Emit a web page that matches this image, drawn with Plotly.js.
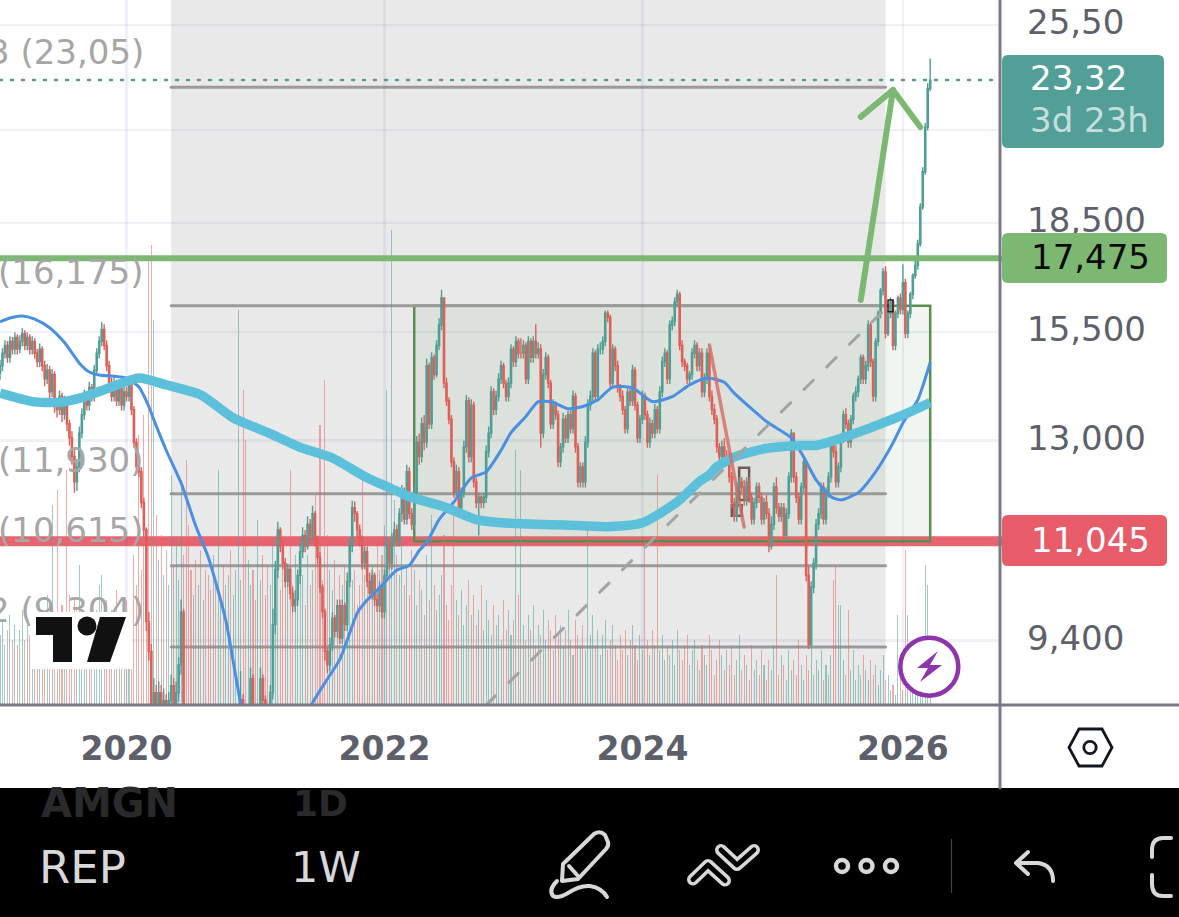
<!DOCTYPE html>
<html><head><meta charset="utf-8">
<script src="https://cdn.plot.ly/plotly-3.0.1.min.js"></script>
<style>html,body{margin:0;padding:0;background:#fff;overflow:hidden}#wrap{position:relative;width:1179px;height:917px}
#chart{position:absolute;left:0;top:0;width:1179px;height:917px}
#icons{position:absolute;left:0;top:0;pointer-events:none}
.shapelayer path{stroke-linecap:round}</style>
</head><body><div id="wrap"><div id="chart"></div>
<svg id="icons" width="1179" height="917" viewBox="0 0 1179 917" fill="none">
<rect x="30" y="612" width="102" height="57" fill="#fff"/>
<path d="M36 617H72V662H53V635H36Z" fill="#111"/><circle cx="87" cy="626" r="9.5" fill="#111"/><path d="M100 617H126L110 662H87Z" fill="#111"/>
<circle cx="929.3" cy="666.7" r="29" fill="#fff" stroke="#8e35ab" stroke-width="4.5"/><path d="M938 651L917 668H928L920 682L942 665H930Z" fill="#8e35ab"/>
<path d="M1079 729H1102L1112 747.5L1102 766H1079L1069 747.5Z" stroke="#131722" stroke-width="2.8"/><circle cx="1090" cy="747.5" r="6.2" stroke="#131722" stroke-width="2.8"/>
<g stroke="#d8d8da" stroke-width="4" stroke-linecap="round" stroke-linejoin="round">
<path d="M562 881L563 864L594 834Q600 830 605 835L608 842Q609 846 606 849L578 879Z"/><path d="M569 866L578 876"/>
<path d="M557 881Q548 890 553 896Q558 899 568 893Q580 885 590 886Q602 888 607 897"/>
<circle cx="842" cy="866" r="6" stroke-width="4.5"/><circle cx="866.5" cy="866" r="6" stroke-width="4.5"/><circle cx="891" cy="866" r="6" stroke-width="4.5"/>
<path d="M1028 852L1016 863L1028 874M1016 863H1038Q1053 865 1053 881"/>
<path d="M1171 838H1163Q1152 838 1152 850V857M1152 875V884Q1152 896 1163 896H1171"/>
</g>
<g stroke-linecap="round" stroke-linejoin="round">
<path d="M693 879.5L708 865L725 880.5M721 850L737 865L754 850" stroke="#d8d8da" stroke-width="12"/>
<path d="M693 879.5L708 865L725 880.5M721 850L737 865L754 850" stroke="#000" stroke-width="5"/>
</g>
<path d="M951.5 839V893" stroke="#444" stroke-width="1.2"/>
</svg></div>
<script>
const closes=[14.68,14.98,15.17,14.88,15.27,15.08,15.37,15.08,15.27,15.47,
15.17,15.37,15.08,15.27,14.98,14.78,15.08,14.68,14.37,14.57,
14.07,14.47,13.77,13.67,13.97,13.57,13.87,13.36,13.06,12.67,
12.16,12.46,13.16,13.56,13.97,13.77,14.17,13.97,14.57,14.98,
15.27,15.57,15.17,14.68,14.27,13.97,14.27,13.87,14.17,13.77,
14.07,13.97,14.27,13.67,12.96,12.46,12.36,11.76,11.25,9.70,
9.24,8.28,8.64,8.34,8.64,8.34,8.53,8.28,8.53,8.74,
8.34,8.64,9.04,9.85,8.34,8.04,7.84,7.64,7.74,7.53,
7.74,7.64,7.84,7.74,7.53,7.33,7.64,7.53,7.74,7.84,
7.64,7.74,7.94,7.84,8.04,8.14,8.24,8.54,8.34,8.14,
8.34,8.84,8.24,8.14,8.34,8.84,8.54,8.34,8.24,8.64,
9.65,10.55,11.25,10.96,10.66,10.35,10.55,10.15,9.95,10.05,
10.45,10.86,11.15,10.96,11.35,11.15,11.55,11.06,10.76,10.25,
9.85,9.24,9.04,9.34,9.75,9.55,9.95,9.44,9.95,9.65,
10.35,10.96,11.66,11.55,11.25,11.06,10.66,10.86,10.35,10.15,
10.45,10.05,9.95,10.25,9.85,10.45,10.96,10.66,11.06,11.25,
11.06,11.55,11.96,11.45,12.36,
11.55,11.35,11.96,12.97,12.67,13.36,12.97,14.68,13.36,14.88,14.47,
15.17,15.68,16.38,
14.27,13.87,13.46,12.56,11.96,12.36,11.66,11.96,12.87,13.87,
12.67,13.77,12.16,11.76,11.86,11.76,11.86,12.77,13.16,14.07,13.67,
13.97,14.37,14.68,14.27,13.97,14.27,15.08,14.78,15.27,14.98,
14.98,15.17,14.37,15.27,14.88,15.27,14.98,15.08,13.16,14.47,
14.88,14.27,13.36,13.77,13.56,12.56,12.87,13.46,13.06,13.56,
13.26,13.97,12.87,12.16,12.46,12.16,12.97,13.77,13.97,14.98,
13.97,15.08,15.08,15.27,15.98,15.88,14.27,15.08,14.68,14.17,
13.97,13.67,13.26,14.07,13.87,14.57,13.77,13.06,13.46,13.97,
13.56,12.97,13.36,13.16,13.67,13.26,14.07,14.78,14.98,14.37,
15.68,15.78,16.28,16.48,15.17,14.78,14.68,14.37,14.47,14.98,
15.17,14.68,14.98,14.07,14.37,14.98,13.97,13.67,13.46,12.87,
12.67,12.87,12.67,12.67,12.26,11.76,11.50,12.06,12.16,12.06,
11.81,12.16,11.86,11.45,11.76,12.06,11.86,11.45,11.76,11.55,
10.96,11.35,12.06,11.66,11.50,11.66,11.15,11.55,12.26,13.16,
12.26,11.86,11.45,12.06,12.56,10.45,9.34,10.25,10.66,11.35,
11.55,12.06,11.45,11.96,12.26,12.97,12.77,12.16,12.46,13.06,
13.56,13.36,12.97,13.46,13.97,14.07,14.37,14.88,14.37,14.68,
15.68,14.78,13.97,15.27,15.98,16.58,17.09,15.47,15.98,16.28,
15.17,15.98,16.38,16.08,16.79,15.47,15.98,16.48,16.99,17.27,
17.88,18.99,20.10,21.61,23.00,23.32];
const opens=[14.50,14.68,14.98,15.17,14.88,15.27,15.08,15.37,15.08,15.27,
15.47,15.17,15.37,15.08,15.27,14.98,14.78,15.08,14.68,14.37,
14.57,14.07,14.47,13.77,13.67,13.97,13.57,13.87,13.36,13.06,
12.67,12.16,12.46,13.16,13.56,13.97,13.77,14.17,13.97,14.57,
14.98,15.27,15.57,15.17,14.68,14.27,13.97,14.27,13.87,14.17,
13.77,14.07,13.97,14.27,13.67,12.96,12.46,12.36,11.76,11.25,
9.70,9.24,8.28,8.64,8.34,8.64,8.34,8.53,8.28,8.53,
8.74,8.34,8.64,9.04,9.85,8.34,8.04,7.84,7.64,7.74,
7.53,7.74,7.64,7.84,7.74,7.53,7.33,7.64,7.53,7.74,
7.84,7.64,7.74,7.94,7.84,8.04,8.14,8.24,8.54,8.34,
8.14,8.34,8.84,8.24,8.14,8.34,8.84,8.54,8.34,8.24,
8.64,9.65,10.55,11.25,10.96,10.66,10.35,10.55,10.15,9.95,
10.05,10.45,10.86,11.15,10.96,11.35,11.15,11.55,11.06,10.76,
10.25,9.85,9.24,9.04,9.34,9.75,9.55,9.95,9.44,9.95,
9.65,10.35,10.96,11.66,11.55,11.25,11.06,10.66,10.86,10.35,
10.15,10.45,10.05,9.95,10.25,9.85,10.45,10.96,10.66,11.06,
11.25,11.06,11.55,11.96,11.45,
12.36,11.55,11.35,11.96,12.97,12.67,13.36,12.97,14.68,13.36,14.88,
14.47,15.17,15.68,
16.38,14.27,13.87,13.46,12.56,11.96,12.36,11.66,11.96,12.87,
13.87,12.67,13.77,12.16,11.76,11.86,11.76,11.86,12.77,13.16,14.07,
13.67,13.97,14.37,14.68,14.27,13.97,14.27,15.08,14.78,15.27,
14.98,14.98,15.17,14.37,15.27,14.88,15.27,14.98,15.08,13.16,
14.47,14.88,14.27,13.36,13.77,13.56,12.56,12.87,13.46,13.06,
13.56,13.26,13.97,12.87,12.16,12.46,12.16,12.97,13.77,13.97,
14.98,13.97,15.08,15.08,15.27,15.98,15.88,14.27,15.08,14.68,
14.17,13.97,13.67,13.26,14.07,13.87,14.57,13.77,13.06,13.46,
13.97,13.56,12.97,13.36,13.16,13.67,13.26,14.07,14.78,14.98,
14.37,15.68,15.78,16.28,16.48,15.17,14.78,14.68,14.37,14.47,
14.98,15.17,14.68,14.98,14.07,14.37,14.98,13.97,13.67,13.46,
12.87,12.67,12.87,12.67,12.67,12.26,11.76,11.50,12.06,12.16,
12.06,11.81,12.16,11.86,11.45,11.76,12.06,11.86,11.45,11.76,
11.55,10.96,11.35,12.06,11.66,11.50,11.66,11.15,11.55,12.26,
13.16,12.26,11.86,11.45,12.06,12.56,10.45,9.34,10.25,10.66,
11.35,11.55,12.06,11.45,11.96,12.26,12.97,12.77,12.16,12.46,
13.06,13.56,13.36,12.97,13.46,13.97,14.07,14.37,14.88,14.37,
14.68,15.68,14.78,13.97,15.27,15.98,16.58,17.09,15.47,15.98,
16.28,15.17,15.98,16.38,16.08,16.79,15.47,15.98,16.48,16.99,
17.27,17.88,18.99,20.10,21.61,23.00];
const highs=[14.82,15.10,15.30,15.28,15.40,15.38,15.50,15.45,15.42,15.60,
15.55,15.50,15.45,15.40,15.35,15.08,15.22,15.15,14.80,14.72,
14.68,14.60,14.55,13.90,14.10,14.05,13.98,13.95,13.45,13.20,
12.80,12.62,13.30,13.70,14.12,14.05,14.30,14.25,14.70,15.10,
15.40,15.75,15.70,15.30,14.80,14.40,14.40,14.35,14.30,14.25,
14.20,14.18,14.40,14.35,13.75,13.05,12.55,12.45,11.85,11.30,
9.85,9.35,8.85,8.75,8.80,8.75,8.70,8.62,8.65,8.90,
8.85,8.80,9.15,10.05,9.90,8.40,8.10,7.90,7.85,7.80,
7.85,7.80,7.95,7.90,7.80,7.60,7.75,7.70,7.85,7.95,
7.90,7.85,8.05,8.00,8.15,8.25,8.35,8.95,8.62,8.40,
8.45,9.00,8.90,8.30,8.45,9.00,8.90,8.60,8.40,8.75,
9.90,10.70,11.40,11.30,11.05,10.75,10.65,10.60,10.25,10.20,
10.55,11.00,11.30,11.25,11.50,11.45,11.70,11.60,11.15,10.85,
10.30,9.90,9.30,9.45,9.85,9.80,10.05,10.05,10.05,10.00,
10.50,11.10,11.80,11.78,11.60,11.35,11.15,10.95,10.95,10.50,
10.55,10.50,10.15,10.35,10.30,10.55,11.10,11.05,11.20,11.40,
11.35,11.65,12.10,12.05,12.50,
12.45,11.65,12.10,13.10,13.15,13.50,13.55,14.85,14.75,15.00,14.95,
15.30,15.85,16.60,
16.05,14.40,13.95,13.55,12.65,12.50,12.45,12.05,13.00,14.00,
13.95,13.90,13.85,12.25,11.95,11.90,11.95,12.90,13.30,14.20,14.15,
14.10,14.50,14.80,14.75,14.35,14.40,15.20,15.15,15.40,15.35,
15.35,15.30,15.25,15.40,15.35,15.40,15.70,15.25,15.20,14.60,
15.00,14.95,14.35,13.90,13.85,13.65,12.95,13.60,13.55,13.65,
13.65,14.10,14.05,12.95,12.55,12.55,13.10,13.90,14.10,15.10,
15.05,15.20,15.25,15.40,16.05,16.05,15.95,15.20,15.15,14.80,
14.25,14.10,13.75,14.20,14.15,14.70,14.65,13.85,13.55,14.10,
14.05,13.65,13.50,13.45,13.80,13.75,14.20,14.90,15.10,15.05,
15.80,15.90,16.40,16.60,16.55,15.30,14.85,14.75,14.55,15.10,
15.30,15.25,15.10,15.10,14.50,15.10,15.10,14.10,13.80,13.55,
12.95,13.00,13.05,12.80,12.75,12.35,11.85,12.15,12.25,12.25,
12.20,12.25,12.25,11.95,11.85,12.15,12.15,11.95,11.85,11.90,
11.65,11.50,12.15,12.25,11.75,11.75,11.75,11.65,12.35,13.25,
13.00,12.35,11.95,12.15,12.65,12.60,10.60,10.35,10.75,11.45,
11.65,12.15,12.15,12.05,12.35,13.05,13.05,12.90,12.55,13.15,
13.65,13.70,13.45,13.55,14.05,14.20,14.45,14.95,14.95,14.80,
15.80,15.75,14.85,15.35,16.05,16.65,17.20,17.25,16.05,16.40,
16.35,16.05,16.45,16.50,17.30,16.90,16.05,16.55,17.05,17.40,
18.00,19.10,20.25,21.75,23.20,24.15];
const lows=[14.35,14.55,14.85,14.75,14.75,14.95,14.95,14.95,14.98,15.15,
15.05,15.05,14.95,14.95,14.85,14.65,14.65,14.55,14.20,14.25,
13.90,13.95,13.60,13.50,13.55,13.40,13.45,13.20,12.90,12.50,
11.95,11.98,12.35,13.05,13.45,13.65,13.65,13.85,13.85,14.45,
14.85,15.15,15.05,14.55,14.15,13.85,13.85,13.75,13.75,13.65,
13.65,13.85,13.85,13.55,12.85,12.35,12.25,11.65,11.10,9.55,
9.10,8.15,8.18,8.22,8.25,8.22,8.25,8.15,8.20,8.42,
8.22,8.25,8.52,8.90,8.20,7.90,7.70,7.50,7.55,7.40,
7.45,7.50,7.55,7.60,7.40,7.20,7.25,7.40,7.45,7.65,
7.50,7.55,7.65,7.70,7.75,7.95,8.05,8.15,8.22,8.02,
8.02,8.25,8.12,8.00,8.05,8.25,8.42,8.22,8.12,8.15,
8.55,9.50,10.40,10.85,10.55,10.25,10.25,10.05,9.85,9.85,
9.95,10.30,10.75,10.85,10.90,11.00,11.05,10.95,10.65,10.15,
9.75,9.10,8.92,8.95,9.25,9.45,9.45,9.35,9.35,9.55,
9.55,10.25,10.85,11.40,11.10,10.95,10.55,10.55,10.25,10.05,
10.05,9.95,9.85,9.85,9.75,9.75,10.35,10.55,10.55,10.95,
10.95,10.95,11.40,11.35,11.35,
11.45,11.25,11.25,11.85,12.50,12.55,12.80,12.85,13.25,13.25,14.35,
14.40,15.05,15.55,
14.15,13.75,13.35,12.45,11.85,11.85,11.55,11.55,11.85,12.75,
12.55,12.55,12.05,11.65,11.15,11.65,11.65,11.75,12.65,13.05,13.55,
13.55,13.85,14.25,14.15,13.85,13.85,14.15,14.65,14.65,14.85,
14.85,14.85,14.25,14.25,14.75,14.75,14.85,14.85,12.85,13.05,
14.35,14.15,13.25,13.25,13.45,12.45,12.45,12.75,12.95,12.95,
13.15,13.15,12.75,12.05,12.05,12.05,12.05,12.85,13.65,13.85,
13.85,13.85,14.95,14.95,15.15,15.75,14.15,14.15,14.55,14.05,
13.85,13.55,13.15,13.15,13.75,13.75,13.65,12.95,12.95,13.35,
13.45,12.85,12.85,13.05,13.05,13.15,13.15,13.95,14.65,14.25,
14.25,15.55,15.65,16.15,15.05,14.65,14.55,14.25,14.25,14.35,
14.85,14.55,14.55,13.95,13.95,14.25,13.85,13.55,13.35,12.75,
12.55,12.55,12.55,12.55,12.15,11.65,11.40,11.40,11.95,11.95,
11.70,11.70,11.75,11.35,11.35,11.65,11.75,11.35,11.35,11.45,
10.85,10.90,11.25,11.55,11.40,11.40,11.05,11.05,11.45,12.15,
12.15,11.75,11.35,11.35,11.95,10.35,9.28,9.75,10.15,10.55,
11.25,11.45,11.35,11.35,11.85,12.15,12.65,12.05,12.05,12.35,
12.95,13.25,12.85,12.85,13.35,13.85,13.95,14.25,14.25,14.25,
14.55,14.65,13.85,13.85,15.15,15.85,16.45,15.35,15.40,15.85,
15.05,15.05,15.85,15.95,15.95,15.35,15.35,15.85,16.35,16.90,
17.15,17.80,18.90,20.00,21.50,22.90];
const volumes=[14,17,12,15,18,13,16,12,15,19,13,16,14,18,12,15,20,14,17,22,
16,40,18,43,15,20,17,47,22,18,21,19,28,17,14,18,16,20,15,19,
24,26,18,21,16,19,14,23,17,15,19,21,17,18,30,24,54,27,58,33,
89,92,77,38,29,34,26,31,24,46,28,33,25,45,30,49,36,27,22,29,
24,31,21,27,26,23,30,25,47,22,28,24,26,31,22,27,79,25,63,53,
29,24,27,21,37,25,30,22,28,24,33,26,29,23,31,25,27,47,24,30,
22,28,26,20,30,24,27,42,31,56,25,65,34,27,23,29,21,26,24,28,
22,30,25,27,20,24,46,26,31,23,28,25,33,27,30,36,63,29,95,41,
30,26,33,24,28,22,31,27,20,25,23,18,30,21,38,24,19,22,26,34,
20,17,24,38,21,18,23,16,20,25,18,22,16,19,24,15,21,17,14,20,
16,18,13,21,15,19,14,17,51,22,47,16,13,18,15,20,12,16,14,19,
13,17,15,11,18,14,16,12,15,19,13,10,17,14,12,16,11,35,14,18,
12,15,10,14,17,11,13,16,12,9,14,11,15,10,13,16,12,9,14,11,
33,13,10,15,12,46,11,14,9,12,10,13,8,15,11,9,12,14,8,11,
13,9,7,12,10,8,14,11,6,9,13,10,7,11,8,12,6,9,14,7,
10,8,5,12,7,9,6,11,8,5,9,7,12,26,6,10,8,5,11,7,
9,6,13,8,5,10,7,12,6,9,7,11,5,8,6,10,25,28,20,20,
9,6,19,7,11,5,8,6,10,7,5,9,6,8,4,7,10,5,6,3,
4,2,18,5,3,31,18,4,6,3,4,2,5,28,24,6];
const fastIdx=[0,4,9,14,20,26,32,36,40,46,51,56,60,62,67,73,79,84,91,97,101,111,121,126,131,137,140,144,148,153,160,165,169,172,177,183,190,196,202,206,212,217,223,229,235,241,247,255,263,271,278,285,292,296,309,319,324,329,335,339,346,353,360,364,370,375];
const fastMA=[15.76,15.86,15.91,15.83,15.61,15.24,14.74,14.53,14.46,14.43,14.39,14.18,13.74,13.45,12.80,12.14,11.31,10.76,9.72,8.50,8.0,7.85,8.1,8.50,8.78,9.12,9.41,9.83,10.04,10.24,10.54,10.62,10.88,11.02,11.44,11.77,12.24,12.36,12.80,13.17,13.52,13.85,13.83,13.69,13.74,13.89,14.18,14.16,13.85,13.96,14.23,14.39,14.29,14.04,13.41,13.06,12.66,12.20,11.87,11.81,11.95,12.36,12.95,13.38,13.89,14.76];
const slowIdx=[0,13,23,33,44,56,67,81,94,108,121,134,148,161,165,179,192,206,233,246,259,273,282,286,289,296,309,323,329,343,356,366,375];
const slowMA=[14.04,13.85,13.83,13.94,14.16,14.39,14.23,14.00,13.49,13.17,12.86,12.64,12.24,11.96,11.87,11.68,11.44,11.37,11.33,11.31,11.38,11.77,12.17,12.30,12.46,12.66,12.84,12.90,12.90,13.12,13.38,13.60,13.83];
const levelPrices=[23.05,16.175,11.93,10.615,9.304];
const levelTexts=['3 (23,05)','(16,175)','(11,930)','(10,615)','2 (9,304)'];
const levelTextY=[52,272,460,530,610];
const yTickVals=[25.5,21.5,18.5,15.5,13,9.4];
const yTickText=['25,50','','18,500','15,500','13,000','9,400'];
const xTickVals=['2020-01-06','2022-01-03','2024-01-01','2026-01-05'];
const xTickText=['2020','2022','2024','2026'];
const lastPrice=23.32, resistance=17.475, support=11.045;

const weeks=closes.map((_,i)=>new Date(Date.UTC(2019,0,14+7*i)).toISOString().slice(0,10));
const GREEN='#4f9e94',RED='#dd5f58';
const GRID='rgba(60,80,160,0.08)';
const FONT='"DejaVu Sans", sans-serif';
const w=1179,h=917;
const px=x=>x/w, py=y=>(h-y)/h;
function rr(x0,y0,x1,y1,r){return `M${px(x0+r)},${py(y0)}L${px(x1-r)},${py(y0)}Q${px(x1)},${py(y0)} ${px(x1)},${py(y0+r)}L${px(x1)},${py(y1-r)}Q${px(x1)},${py(y1)} ${px(x1-r)},${py(y1)}L${px(x0+r)},${py(y1)}Q${px(x0)},${py(y1)} ${px(x0)},${py(y1-r)}L${px(x0)},${py(y0+r)}Q${px(x0)},${py(y0)} ${px(x0+r)},${py(y0)}Z`;}
const lineShape=(i0,v0,i1,v1,color,width,dash,layer)=>({type:'line',xref:'x',yref:'y2',x0:weeks[i0],y0:v0,x1:weeks[i1],y1:v1,layer:layer||'below',line:{color,width,dash:dash||'solid'}});
const pap=(path,fill)=>({type:'path',xref:'paper',yref:'paper',path,fillcolor:fill,line:{width:0},layer:'above'});
const shapes=[
 {type:'rect',xref:'x',yref:'paper',x0:weeks[69],x1:weeks[357],y0:py(705),y1:1,fillcolor:'#e9e9ea',line:{width:0},layer:'below'},
 {type:'rect',xref:'x',yref:'y2',x0:weeks[167],x1:weeks[375],y0:support,y1:levelPrices[1],fillcolor:'rgba(90,150,80,0.09)',line:{color:'#5c8d50',width:2.5},layer:'below'},
 ...levelPrices.map(v=>lineShape(69,v,357,v,'#9a9a9a',3)),
 {type:'line',xref:'paper',yref:'y2',x0:0,x1:px(1000),y0:support,y1:support,line:{color:'rgba(231,92,104,0.95)',width:10},layer:'below'},
 {type:'line',xref:'paper',yref:'y2',x0:0,x1:px(1000),y0:resistance,y1:resistance,line:{color:'#7db873',width:6},layer:'above'},
 {type:'line',xref:'paper',yref:'y2',x0:0,x1:px(1000),y0:lastPrice,y1:lastPrice,line:{color:GREEN,width:2.5,dash:'2px,9px'},layer:'above'},
 lineShape(196,8.47,358,16.17,'#a3a3a3',3,'13px,19px','above'),
 lineShape(286,15.18,300,11.30,'rgba(215,105,100,0.8)',3.5,'solid','above'),
 lineShape(347,16.33,360,22.95,'#7db873',6,'solid','above'),
 lineShape(347,21.97,360,22.95,'#7db873',6,'solid','above'),
 lineShape(360,22.95,371,21.61,'#7db873',6,'solid','above'),
 {type:'rect',xref:'x',yref:'y2',x0:weeks[298],x1:weeks[302],y0:11.81,y1:12.44,line:{color:'#6f5b5b',width:2.5},layer:'below'},
 {type:'rect',xref:'x',yref:'y2',x0:weeks[295],x1:weeks[299],y0:11.51,y1:11.71,line:{color:'#6f5b5b',width:2.5},layer:'below'},
 {type:'rect',xref:'x',yref:'y2',x0:weeks[358],x1:weeks[360],y0:16.02,y1:16.33,line:{color:'#222',width:1.5},layer:'above'},
 pap(`M0,${py(788)}L1,${py(788)}L1,0L0,0Z`,'#000'),
 {type:'line',xref:'paper',yref:'paper',x0:px(1000),x1:px(1000),y0:py(0),y1:py(788),line:{color:'#787b86',width:3},layer:'above'},
 {type:'line',xref:'paper',yref:'paper',x0:0,x1:1,y0:py(705),y1:py(705),line:{color:'#787b86',width:3},layer:'above'},
 pap(rr(1002,55,1164,148,6),'#529f97'),
 pap(rr(1002,233,1167,283,6),'#7db873'),
 pap(rr(1002,515,1167,566,6),'#e75c68'),
];
const ann=(text,x,y,size,color,anchor,weight)=>({text,xref:'paper',yref:'paper',x:px(x),y:py(y),xanchor:anchor||'left',yanchor:'middle',showarrow:false,font:{family:FONT,size,color,weight:weight||400}});
const annotations=[
 ...levelTexts.map((t,i)=>ann(t,146,levelTextY[i],34,'#a6a6a6','right')),
 ann('23,32',1028,78,34,'#ffffff'),
 ann('3d 23h',1028,120,34,'rgba(255,255,255,0.68)'),
 ann('17,475',1029,257,34,'#0c0c0c'),
 ann('11,045',1029,540,34,'#ffffff'),
 ann('AMGN',39,803,40,'#2a2a2c',null,700),
 ann('1D',291,803,36,'#2a2a2c',null,700),
 ann('REP',37,867,45,'#d8d8da'),
 ann('1W',289,867,43,'#d8d8da'),
];
const data=[
 {type:'bar',x:weeks,y:volumes,yaxis:'y',width:254000000,marker:{color:closes.map((c,i)=>c>=opens[i]?'rgba(80,160,150,0.55)':'rgba(226,105,100,0.55)'),line:{width:0}},hoverinfo:'skip'},
 {type:'candlestick',x:weeks,open:opens,high:highs,low:lows,close:closes,yaxis:'y2',whiskerwidth:0,
  increasing:{line:{color:GREEN,width:1.4},fillcolor:GREEN},decreasing:{line:{color:RED,width:1.4},fillcolor:RED},hoverinfo:'skip'},
 {type:'scatter',mode:'lines',x:fastIdx.map(i=>weeks[i]),y:fastMA,yaxis:'y2',line:{color:'#4a8fe0',width:3,shape:'spline',smoothing:0.6},hoverinfo:'skip'},
 {type:'scatter',mode:'lines',x:slowIdx.map(i=>weeks[i]),y:slowMA,yaxis:'y2',line:{color:'#5cc0da',width:9.5,shape:'spline',smoothing:0.6},hoverinfo:'skip'},
];
const layout={width:w,height:h,margin:{l:0,r:0,t:0,b:0,pad:0},paper_bgcolor:'#fff',plot_bgcolor:'#fff',showlegend:false,bargap:0,
 xaxis:{type:'date',domain:[0,1000/w],range:['2019-01-14','2026-10-06'],tickmode:'array',tickvals:xTickVals,ticktext:xTickText,showgrid:true,gridcolor:GRID,gridwidth:2.5,zeroline:false,showline:false,ticks:'',ticklabelstandoff:21,tickfont:{family:FONT,size:33,color:'#5d606b',weight:700},rangeslider:{visible:false},anchor:'y'},
 yaxis:{domain:[py(705),1],range:[0,141],visible:false,fixedrange:true},
 yaxis2:{type:'log',overlaying:'y',side:'right',anchor:'x',range:[0.9279,1.4241],tickmode:'array',tickvals:yTickVals,ticktext:yTickText,showgrid:true,gridcolor:GRID,gridwidth:2.5,zeroline:false,showline:false,ticks:'',ticklabelstandoff:26,ticklabelshift:-3,tickfont:{family:FONT,size:34,color:'#5d606b'}},
 shapes,annotations};
Plotly.newPlot('chart',data,layout,{staticPlot:true,displayModeBar:false});
</script></body></html>
